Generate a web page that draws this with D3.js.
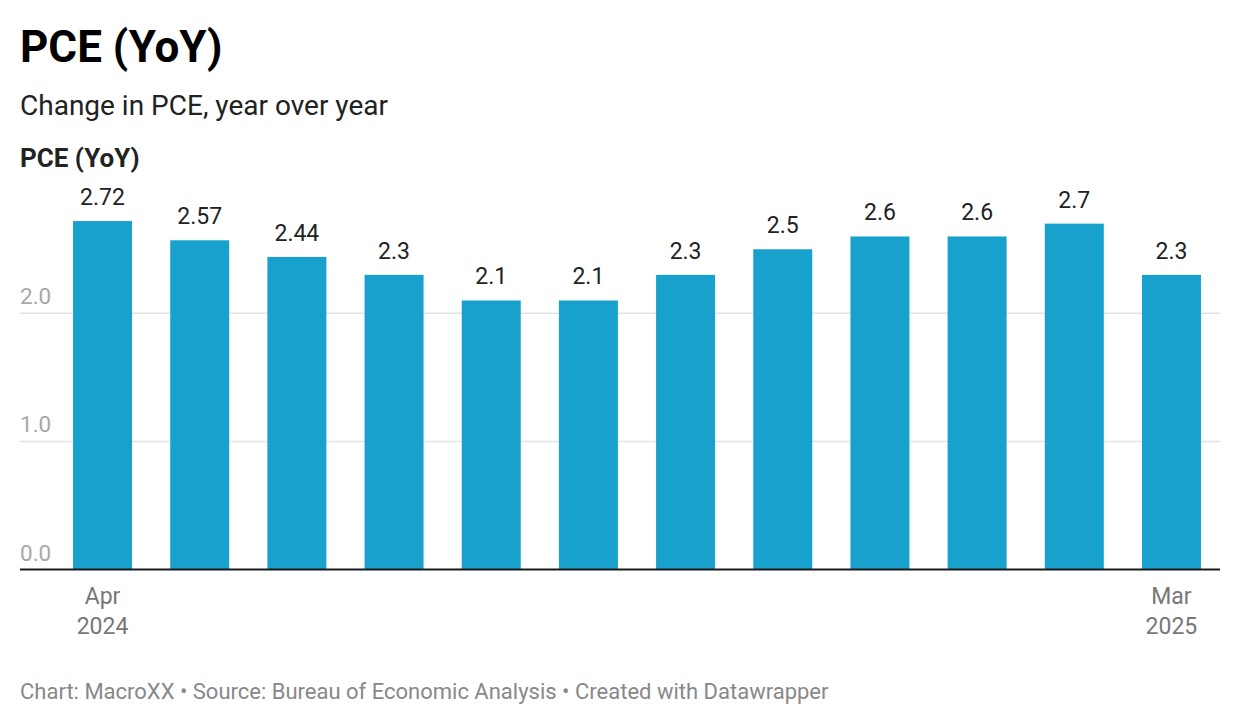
<!DOCTYPE html>
<html>
<head>
<meta charset="utf-8">
<script src="https://cdn.jsdelivr.net/npm/d3@7"></script>
<style>
  body { margin: 0; background: #fff; font-family: Roboto, "Noto Sans", sans-serif; }
</style>
</head>
<body>
<div id="chart"></div>
<script>
// Data
const months = ['Apr 2024', 'May 2024', 'Jun 2024', 'Jul 2024', 'Aug 2024', 'Sep 2024',
    'Oct 2024', 'Nov 2024', 'Dec 2024', 'Jan 2025', 'Feb 2025', 'Mar 2025'];
const values = [2.72, 2.57, 2.44, 2.3, 2.1, 2.1, 2.3, 2.5, 2.6, 2.6, 2.7, 2.3];
const valueLabels = ['2.72', '2.57', '2.44', '2.3', '2.1', '2.1', '2.3', '2.5', '2.6', '2.6', '2.7', '2.3'];
const yTicks = [0, 1, 2];
const xTickMonths = ['Apr 2024', 'Mar 2025'];

const W = 1240, H = 726;

const svg = d3.select("#chart")
    .append("svg")
    .attr("width", W)
    .attr("height", H);

// Title block
svg.append("text")
    .attr("x", 20).attr("y", 62)
    .attr("font-size", 44).attr("font-weight", 700).attr("fill", "#000")
    .text("PCE (YoY)");

svg.append("text")
    .attr("x", 20).attr("y", 115)
    .attr("font-size", 28).attr("fill", "#222")
    .text("Change in PCE, year over year");

svg.append("text")
    .attr("x", 20).attr("y", 167)
    .attr("font-size", 26).attr("font-weight", 700).attr("fill", "#222")
    .text("PCE (YoY)");

// Scales
const x = d3.scaleBand()
    .domain(months)
    .range([54, 1220])
    .paddingInner(0.393)
    .paddingOuter(0.196);

const y = d3.scaleLinear()
    .domain([0, 3])
    .range([569.5, 569.5 - 3 * 128.1]);

// Gridlines + y labels
const grid = svg.append("g");
grid.selectAll("line")
    .data(yTicks.filter(d => d !== 0))
    .enter()
    .append("line")
    .attr("x1", 20).attr("x2", 1220)
    .attr("y1", d => y(d)).attr("y2", d => y(d))
    .attr("stroke", "#e3e3e3")
    .attr("stroke-width", 1.5);

grid.selectAll("text")
    .data(yTicks)
    .enter()
    .append("text")
    .attr("x", 20)
    .attr("y", d => y(d) - 9)
    .attr("font-size", 22.5)
    .attr("fill", "#a8a8a8")
    .text(d => d3.format(".1f")(d));

// Bars
svg.selectAll(".bar")
    .data(values)
    .enter()
    .append("rect")
    .attr("class", "bar")
    .attr("x", (d, i) => x(months[i]))
    .attr("y", d => y(d))
    .attr("width", x.bandwidth())
    .attr("height", d => y(0) - y(d))
    .attr("fill", "#18a1cd");

// Value labels
svg.selectAll(".val")
    .data(values)
    .enter()
    .append("text")
    .attr("class", "val")
    .attr("x", (d, i) => x(months[i]) + x.bandwidth() / 2)
    .attr("y", d => y(d) - 16)
    .attr("text-anchor", "middle")
    .attr("font-size", 23)
    .attr("fill", "#222")
    .text((d, i) => valueLabels[i]);

// Baseline
svg.append("line")
    .attr("x1", 20).attr("x2", 1220)
    .attr("y1", y(0)).attr("y2", y(0))
    .attr("stroke", "#1a1a1a")
    .attr("stroke-width", 2);

// X axis labels
const xl = svg.selectAll(".xl")
    .data(xTickMonths)
    .enter()
    .append("text")
    .attr("class", "xl")
    .attr("text-anchor", "middle")
    .attr("font-size", 23)
    .attr("fill", "#777");
xl.append("tspan")
    .attr("x", d => x(d) + x.bandwidth() / 2)
    .attr("y", 604)
    .text(d => d.split(" ")[0]);
xl.append("tspan")
    .attr("x", d => x(d) + x.bandwidth() / 2)
    .attr("y", 634)
    .text(d => d.split(" ")[1]);

// Footer
svg.append("text")
    .attr("x", 20).attr("y", 699)
    .attr("font-size", 22)
    .attr("fill", "#888")
    .text("Chart: MacroXX • Source: Bureau of Economic Analysis • Created with Datawrapper");
</script>
</body>
</html>
